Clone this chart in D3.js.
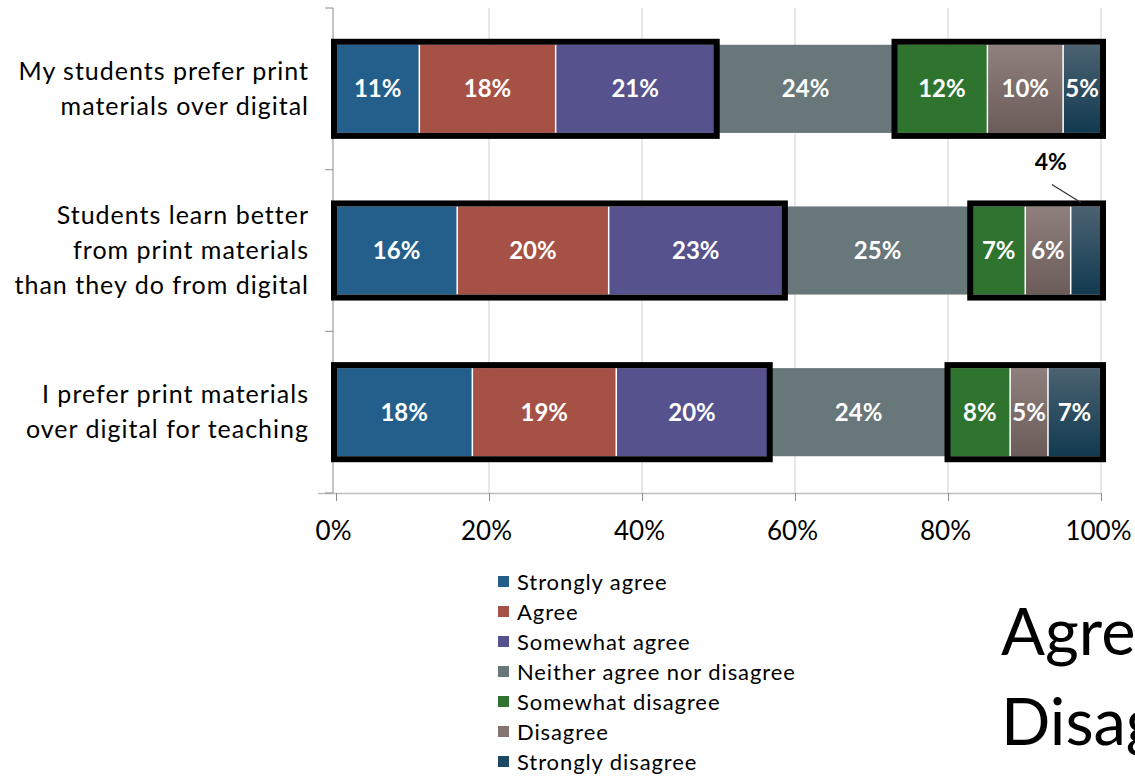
<!DOCTYPE html>
<html>
<head>
<meta charset="utf-8">
<script src="https://cdn.jsdelivr.net/npm/d3@7"></script>
<style>
  html, body { margin: 0; padding: 0; background: #fff; overflow: hidden; }
  svg { display: block; font-family: Lato, "Open Sans", sans-serif; }
</style>
</head>
<body>
<svg id="chart" width="1135" height="777"></svg>
<script>
// data
var questions = [
  ['My students prefer print', 'materials over digital'],
  ['Students learn better', 'from print materials', 'than they do from digital'],
  ['I prefer print materials', 'over digital for teaching']
];
var responses = ['Strongly agree', 'Agree', 'Somewhat agree', 'Neither agree nor disagree',
  'Somewhat disagree', 'Disagree', 'Strongly disagree'];
var q1Values = [11, 18, 21, 24, 12, 10, 5];
var q2Values = [16, 20, 23, 25, 7, 6, 4];
var q3Values = [18, 19, 20, 24, 8, 5, 7];
var tickValues = [0, 0.2, 0.4, 0.6, 0.8, 1];
var colors = ['#235f8a', '#a65145', '#56528d', '#68777a', '#2e742e', 'url(#gDis)', 'url(#gStr)'];
var legendColors = ['#235f8a', '#a65145', '#56528d', '#68777a', '#2e742e', '#857371', '#1d4a62'];
var sideWords = ['Agree', 'Disagree'];

var svg = d3.select('#chart');
var defs = svg.append('defs');
function grad(id, top, bottom) {
  var g = defs.append('linearGradient').attr('id', id)
    .attr('x1', 0).attr('y1', 0).attr('x2', 0).attr('y2', 1);
  g.append('stop').attr('offset', '0%').attr('stop-color', top);
  g.append('stop').attr('offset', '100%').attr('stop-color', bottom);
}
grad('gDis', '#8f807e', '#6b5c5a');
grad('gStr', '#4b6271', '#113a50');

var rows = [q1Values, q2Values, q3Values].map(function (vals, i) {
  var r = { key: i };
  responses.forEach(function (k, j) { r[k] = vals[j]; });
  return r;
});

var x = d3.scaleLinear().domain([0, 1]).range([336, 1101]);
var y = d3.scaleBand().domain([0, 1, 2]).range([8, 493]).paddingInner(0.455).paddingOuter(0.2275);

var stack = d3.stack().keys(responses).offset(d3.stackOffsetExpand);
var series = stack(rows);

// grid
svg.append('g').selectAll('line').data(tickValues.slice(1)).join('line')
  .attr('x1', function (d) { return x(d); }).attr('x2', function (d) { return x(d); })
  .attr('y1', 8).attr('y2', 493)
  .attr('stroke', '#d9d9d9').attr('stroke-width', 1.2);

// x axis
var xAxis = svg.append('g').attr('transform', 'translate(0,493)')
  .call(d3.axisBottom(x).tickValues(tickValues).tickFormat(d3.format('.0%')).tickSizeOuter(0).tickSize(8));
xAxis.select('.domain').attr('stroke', '#bfbfbf').attr('stroke-width', 1.5).attr('d', 'M318,0.5H1101');
xAxis.selectAll('.tick line').attr('stroke', '#8c8c8c');
xAxis.selectAll('.tick text').attr('font-size', 26).attr('fill', '#000').attr('dy', '1.38em')
  .attr('font-family', 'Lato, sans-serif').attr('dx', -3);

// y axis line and band ticks
svg.append('line').attr('x1', 333).attr('x2', 333).attr('y1', 8).attr('y2', 493)
  .attr('stroke', '#8c8c8c').attr('stroke-width', 1);
var bounds = [0, 1, 2, 3].map(function (i) { return 8 + i * y.step(); });
svg.append('g').selectAll('line').data(bounds).join('line')
  .attr('x1', 325).attr('x2', 333)
  .attr('y1', function (d) { return d; }).attr('y2', function (d) { return d; })
  .attr('stroke', '#8c8c8c');

// bars
var layers = svg.append('g').selectAll('g').data(series).join('g')
  .attr('fill', function (d, i) { return colors[i]; });
layers.selectAll('rect').data(function (d) { return d; }).join('rect')
  .attr('x', function (d) { return x(d[0]); })
  .attr('y', function (d) { return y(d.data.key); })
  .attr('width', function (d) { return x(d[1]) - x(d[0]); })
  .attr('height', y.bandwidth());

// white separators inside agree/disagree groups
[1, 2, 5, 6].forEach(function (k) {
  svg.append('g').selectAll('line').data(series[k]).join('line')
    .attr('x1', function (d) { return x(d[0]); }).attr('x2', function (d) { return x(d[0]); })
    .attr('y1', function (d) { return y(d.data.key); })
    .attr('y2', function (d) { return y(d.data.key) + y.bandwidth(); })
    .attr('stroke', '#fff').attr('stroke-width', 1.5);
});

// black group boxes
rows.forEach(function (r, i) {
  var agreeEnd = series[2][i][1];
  var disStart = series[4][i][0];
  var top = y(r.key), h = y.bandwidth();
  [[0, agreeEnd], [disStart, 1]].forEach(function (g) {
    svg.append('rect')
      .attr('x', x(g[0]) - 2).attr('y', top - 3)
      .attr('width', x(g[1]) - x(g[0]) + 4).attr('height', h + 6)
      .attr('fill', 'none').attr('stroke', '#000').attr('stroke-width', 6);
  });
});

// value labels
series.forEach(function (s, k) {
  s.forEach(function (d, i) {
    var v = [q1Values, q2Values, q3Values][i][k];
    var cx = x((d[0] + d[1]) / 2);
    var cy = y(d.data.key) + y.bandwidth() / 2;
    if (i === 1 && k === 6) {
      var top = y(d.data.key);
      svg.append('line').attr('x1', cx - 34).attr('y1', top - 22).attr('x2', cx - 5).attr('y2', top - 4)
        .attr('stroke', '#333').attr('stroke-width', 1.2);
      svg.append('text').attr('x', cx - 35).attr('y', top - 36)
        .attr('text-anchor', 'middle').attr('font-size', 23).attr('font-weight', 700)
        .attr('fill', '#000').text(v + '%');
      return;
    }
    svg.append('text').attr('x', cx).attr('y', cy).attr('dy', '0.36em')
      .attr('text-anchor', 'middle').attr('font-size', 24).attr('font-weight', 700)
      .attr('fill', '#fff').text(v + '%');
  });
});

// category labels
questions.forEach(function (lines, i) {
  var cy = y(i) + y.bandwidth() / 2;
  var lh = 35;
  var t = svg.append('text').attr('text-anchor', 'end').attr('font-size', 25)
    .attr('letter-spacing', '1px').attr('fill', '#000');
  lines.forEach(function (l, j) {
    t.append('tspan').attr('x', 309)
      .attr('y', cy + (j - (lines.length - 1) / 2) * lh).attr('dy', '0.35em').text(l);
  });
});

// legend
var leg = svg.append('g').selectAll('g').data(responses).join('g')
  .attr('transform', function (d, i) { return 'translate(498,' + (582 + i * 30) + ')'; });
leg.append('rect').attr('x', 0).attr('y', -6).attr('width', 11).attr('height', 11)
  .attr('fill', function (d, i) { return legendColors[i]; });
leg.append('text').attr('x', 19).attr('dy', '0.35em').attr('font-size', 22)
  .attr('letter-spacing', '0.9px').attr('fill', '#000')
  .text(function (d) { return d; });

// big side words (cut off at the right edge, as on the slide)
svg.append('g').selectAll('text').data(sideWords).join('text')
  .attr('x', 1001).attr('y', function (d, i) { return 655 + i * 90; })
  .attr('font-size', 65).attr('fill', '#000')
  .text(function (d) { return d; });
</script>
</body>
</html>
